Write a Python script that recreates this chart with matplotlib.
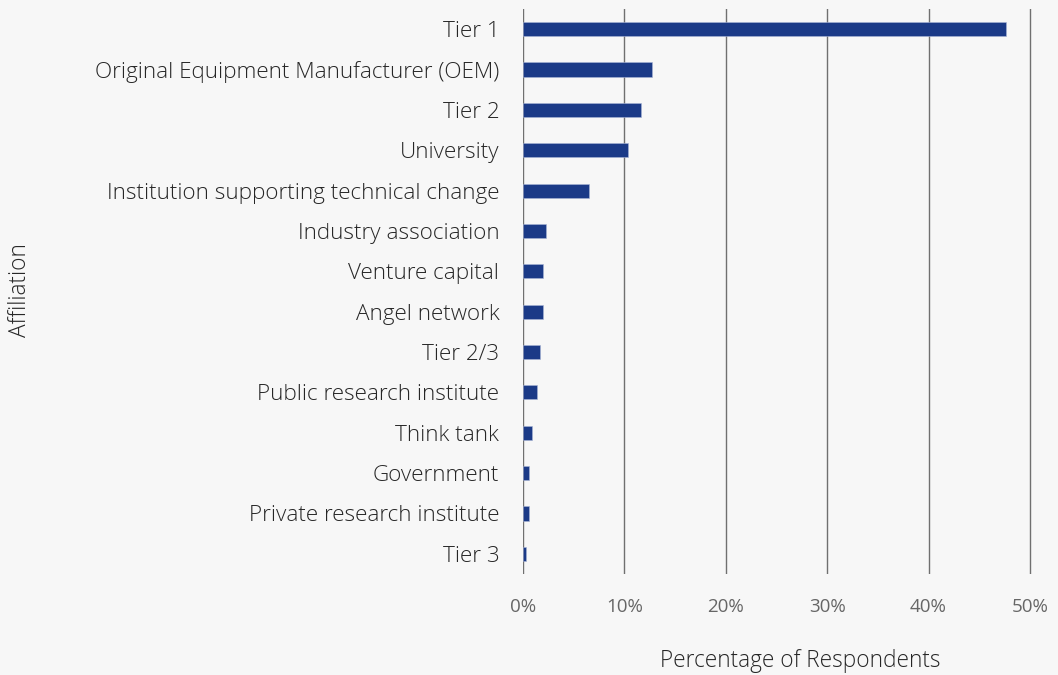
import matplotlib.pyplot as plt

# survey share by affiliation, top to bottom
affiliations = ["Tier 1", "Original Equipment Manufacturer (OEM)", "Tier 2", "University",
                "Institution supporting technical change", "Industry association",
                "Venture capital", "Angel network", "Tier 2/3", "Public research institute",
                "Think tank", "Government", "Private research institute", "Tier 3"]
share = [47.6, 12.7, 11.6, 10.35, 6.5, 2.3, 2.0, 2.0, 1.7, 1.4, 0.9, 0.6, 0.6, 0.3]
x_ticks = [0, 10, 20, 30, 40, 50]

plt.rcParams['font.family'] = ['Open Sans', 'DejaVu Sans']

bg = '#f7f7f7'
fig = plt.figure(figsize=(10.58, 6.75), dpi=100, facecolor=bg)
ax = fig.add_axes([0.4943, 0.1496, 0.4811, 0.8371], facecolor=bg)

pos = list(range(len(affiliations)))
ax.barh(pos, share, height=0.35, color='#1b3a87', edgecolor='#a9b5d6', linewidth=0.4, zorder=3)

ax.set_ylim(len(affiliations) - 0.5, -0.5)
ax.set_xlim(0, 50.2)
ax.set_xticks(x_ticks)
ax.set_xticklabels([str(t) + '%' for t in x_ticks])
ax.set_yticks(pos)
ax.set_yticklabels(affiliations, fontsize=16.2, color='#262626', fontweight='light')

ax.grid(axis='x', color='#707070', linewidth=1.0, zorder=0)
for s in ax.spines.values():
    s.set_visible(False)
ax.tick_params(axis='y', length=0, pad=17)
ax.tick_params(axis='x', length=0, pad=17, labelsize=13.5, labelcolor='#666666')

fig.text(0.756, 0.003, 'Percentage of Respondents', fontsize=16.3, color='#262626',
         fontweight='light', ha='center', va='bottom')
fig.text(0.019, 0.57, 'Affiliation', fontsize=16.3, color='#262626', fontweight='light',
         rotation=90, ha='center', va='center')

fig.savefig('out.png', dpi=100, facecolor=bg)
